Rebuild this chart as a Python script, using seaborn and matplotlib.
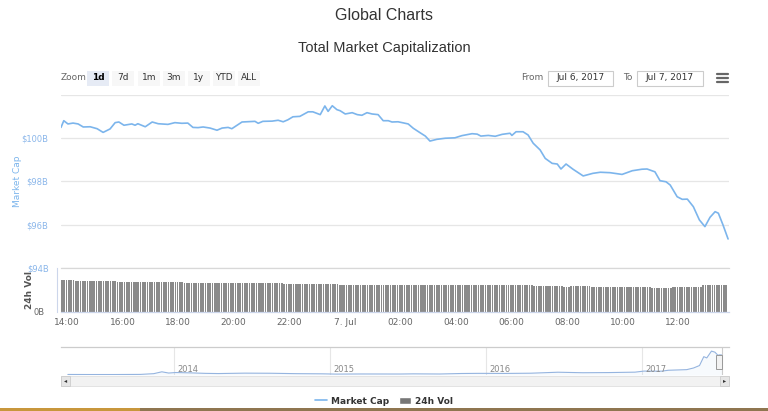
import numpy as np
import pandas as pd
import matplotlib
matplotlib.use("Agg")
import matplotlib.pyplot as plt
import matplotlib.dates as mdates
from matplotlib.patches import Rectangle
from matplotlib.lines import Line2D
import seaborn as sns

# ---------------- data ----------------
cap_times = [
    "2017-07-06 13:47", "2017-07-06 13:53", "2017-07-06 14:02", "2017-07-06 14:13", "2017-07-06 14:24",
    "2017-07-06 14:35", "2017-07-06 14:50", "2017-07-06 15:05", "2017-07-06 15:18", "2017-07-06 15:33",
    "2017-07-06 15:44", "2017-07-06 15:52", "2017-07-06 16:03", "2017-07-06 16:20", "2017-07-06 16:27",
    "2017-07-06 16:33", "2017-07-06 16:49", "2017-07-06 17:04", "2017-07-06 17:17", "2017-07-06 17:38",
    "2017-07-06 17:53", "2017-07-06 18:08", "2017-07-06 18:21", "2017-07-06 18:32", "2017-07-06 18:43",
    "2017-07-06 18:54", "2017-07-06 19:09", "2017-07-06 19:24", "2017-07-06 19:35", "2017-07-06 19:48",
    "2017-07-06 19:56", "2017-07-06 20:18", "2017-07-06 20:46", "2017-07-06 20:53", "2017-07-06 21:03",
    "2017-07-06 21:23", "2017-07-06 21:36", "2017-07-06 21:47", "2017-07-06 21:57", "2017-07-06 22:08",
    "2017-07-06 22:23", "2017-07-06 22:41", "2017-07-06 22:51", "2017-07-06 23:07", "2017-07-06 23:17",
    "2017-07-06 23:24", "2017-07-06 23:33", "2017-07-06 23:43", "2017-07-06 23:50", "2017-07-07 00:01",
    "2017-07-07 00:16", "2017-07-07 00:27", "2017-07-07 00:37", "2017-07-07 00:48", "2017-07-07 00:59",
    "2017-07-07 01:12", "2017-07-07 01:23", "2017-07-07 01:34", "2017-07-07 01:42", "2017-07-07 01:55",
    "2017-07-07 02:04", "2017-07-07 02:17", "2017-07-07 02:28", "2017-07-07 02:43", "2017-07-07 02:54",
    "2017-07-07 03:04", "2017-07-07 03:19", "2017-07-07 03:37", "2017-07-07 03:58", "2017-07-07 04:13",
    "2017-07-07 04:35", "2017-07-07 04:46", "2017-07-07 04:54", "2017-07-07 05:10", "2017-07-07 05:25",
    "2017-07-07 05:40", "2017-07-07 05:57", "2017-07-07 06:01", "2017-07-07 06:10", "2017-07-07 06:25",
    "2017-07-07 06:36", "2017-07-07 06:47", "2017-07-07 07:02", "2017-07-07 07:13", "2017-07-07 07:28",
    "2017-07-07 07:39", "2017-07-07 07:47", "2017-07-07 07:58", "2017-07-07 08:13", "2017-07-07 08:35",
    "2017-07-07 08:56", "2017-07-07 09:12", "2017-07-07 09:33", "2017-07-07 09:59", "2017-07-07 10:21",
    "2017-07-07 10:42", "2017-07-07 10:53", "2017-07-07 11:10", "2017-07-07 11:21", "2017-07-07 11:34",
    "2017-07-07 11:43", "2017-07-07 11:58", "2017-07-07 12:09", "2017-07-07 12:20", "2017-07-07 12:33",
    "2017-07-07 12:46", "2017-07-07 12:58", "2017-07-07 13:09", "2017-07-07 13:20", "2017-07-07 13:27",
    "2017-07-07 13:37", "2017-07-07 13:48",
]
cap_values = [
    100.49, 100.80, 100.65, 100.69, 100.65, 100.51, 100.52, 100.43, 100.26, 100.42,
    100.71, 100.74, 100.59, 100.65, 100.59, 100.66, 100.52, 100.74, 100.66, 100.63,
    100.71, 100.68, 100.69, 100.49, 100.48, 100.51, 100.46, 100.36, 100.46, 100.49,
    100.43, 100.74, 100.77, 100.68, 100.77, 100.78, 100.82, 100.75, 100.84, 100.98,
    101.00, 101.21, 101.21, 101.08, 101.48, 101.23, 101.49, 101.31, 101.26, 101.11,
    101.17, 101.08, 101.05, 101.17, 101.11, 101.08, 100.80, 100.80, 100.74, 100.75,
    100.71, 100.65, 100.45, 100.24, 100.09, 99.86, 99.94, 99.99, 100.01, 100.11,
    100.20, 100.18, 100.09, 100.12, 100.08, 100.17, 100.22, 100.12, 100.29, 100.29,
    100.14, 99.76, 99.45, 99.06, 98.83, 98.80, 98.57, 98.80, 98.56, 98.25,
    98.37, 98.42, 98.40, 98.32, 98.49, 98.56, 98.57, 98.44, 98.03, 97.98,
    97.83, 97.29, 97.17, 97.18, 96.83, 96.22, 95.91, 96.34, 96.60, 96.53,
    95.99, 95.34,
]

# 24h volume (billions), run-length: level and number of 5-minute bars
vol_levels = [4.99, 4.83, 4.71, 4.62, 4.51, 4.46, 4.34, 4.23, 4.14, 4.02, 4.18, 4.02, 3.86, 4.02, 4.23]
vol_counts = [6, 18, 29, 11, 32, 24, 16, 68, 13, 3, 9, 26, 9, 13, 11]
vol_start = "2017-07-06 13:49"

# navigator (total market cap history, billions)
nav_dates = [
    "2013-04-28", "2013-06-15", "2013-08-15", "2013-10-15", "2013-11-15", "2013-12-04",
    "2013-12-20", "2014-01-05", "2014-02-15", "2014-03-15", "2014-04-15", "2014-06-15",
    "2014-08-15", "2014-10-15", "2014-12-15", "2015-01-15", "2015-03-15", "2015-06-15",
    "2015-07-15", "2015-09-15", "2015-11-05", "2015-12-15", "2016-02-15", "2016-04-15",
    "2016-06-18", "2016-08-15", "2016-10-15", "2016-12-15", "2017-01-05", "2017-02-15",
    "2017-03-03", "2017-04-15", "2017-05-01", "2017-05-15", "2017-05-25", "2017-06-01",
    "2017-06-12", "2017-06-20", "2017-06-27", "2017-07-01", "2017-07-07",
]
nav_values = [
    1.6, 1.3, 1.3, 1.9, 5.5, 14.5, 8.5, 11.0, 9.0, 7.0, 6.0, 8.0,
    7.5, 5.5, 4.7, 3.4, 4.0, 3.8, 4.6, 3.9, 6.3, 7.0, 6.6, 7.7,
    12.5, 10.0, 10.8, 12.8, 18.0, 17.5, 22.0, 25.0, 33.0, 45.0, 88.0, 82.0,
    115.0, 110.0, 95.0, 97.0, 96.0,
]
nav_years = ["2014", "2015", "2016", "2017"]

y_ticks = [94, 96, 98, 100, 102]
y_labels = ["$94B", "$96B", "$98B", "$100B", ""]
x_labels = ["14:00", "16:00", "18:00", "20:00", "22:00", "7. Jul",
            "02:00", "04:00", "06:00", "08:00", "10:00", "12:00"]
buttons = ["1d", "7d", "1m", "3m", "1y", "YTD", "ALL"]

# ---------------- figure ----------------
sns.set_theme(style="white")
plt.rcParams["font.family"] = ["DejaVu Sans"]

W, H = 768, 411
fig = plt.figure(figsize=(W / 100, H / 100), dpi=100)
fig.patch.set_facecolor("white")


def fx(x):
    return x / W


def fy(y):
    return 1 - y / H


def axrect(x0, y0, x1, y1):
    return [fx(x0), fy(y1), fx(x1) - fx(x0), (y1 - y0) / H]


BLUE = "#7cb5ec"
GRID = "#e6e6e6"
AXC = "#ccd6eb"
TXT = "#666666"

t0 = pd.Timestamp("2017-07-06 13:47")
t1 = pd.Timestamp("2017-07-07 13:50")

# main panel
ax = fig.add_axes(axrect(61, 94.7, 729, 268))
df = pd.DataFrame({"time": pd.to_datetime(cap_times), "cap": cap_values})
sns.lineplot(data=df, x="time", y="cap", ax=ax, color=BLUE, linewidth=1.2)
ax.set_xlim(t0, t1)
ax.set_ylim(94, 102)
ax.set_yticks(y_ticks)
ax.set_yticklabels(y_labels)
ax.tick_params(axis="y", length=0, pad=9, labelsize=6, labelcolor="#8ab6ea")
ax.set_xticks([])
ax.set_xlabel("")
ax.set_ylabel("")
ax.grid(axis="y", color=GRID, linewidth=0.9)
for s in ax.spines.values():
    s.set_visible(False)
ax.patch.set_alpha(0)

# volume panel
axv = fig.add_axes(axrect(61, 268, 729, 311.5))
vol = np.repeat(vol_levels, vol_counts)
vt = pd.date_range(vol_start, periods=len(vol), freq="5min")
axv.bar(vt, vol, width=3.6 / 1440, color="#8a8a8a", linewidth=0)
axv.set_xlim(t0, t1)
axv.set_ylim(0, 7)
axv.set_yticks([0])
axv.set_yticklabels(["0B"])
axv.tick_params(axis="y", length=0, pad=9, labelsize=6, labelcolor=TXT)
ticks = pd.date_range("2017-07-06 14:00", periods=len(x_labels), freq="2h")
axv.set_xticks(ticks)
axv.set_xticklabels(x_labels)
axv.tick_params(axis="x", direction="out", length=3, width=0.8, color=AXC,
                labelsize=6.5, labelcolor=TXT, pad=2)
for k in ["right"]:
    axv.spines[k].set_visible(False)
axv.spines["top"].set_color("#d8d8d8")
axv.spines["top"].set_linewidth(0.9)
axv.spines["bottom"].set_color(AXC)
axv.spines["bottom"].set_linewidth(0.9)
axv.spines["left"].set_color(AXC)
axv.spines["left"].set_linewidth(0.8)
axv.spines["left"].set_position(("outward", 3))
axv.set_xlabel("")
axv.patch.set_alpha(0)

# axis titles
fig.text(fx(17), fy(181), "Market Cap", rotation=90, ha="center", va="center",
         fontsize=6.5, color=BLUE)
fig.text(fx(30), fy(290), "24h Vol", rotation=90, ha="center", va="center",
         fontsize=6.5, color="#555555", fontweight="bold")

# titles
fig.text(0.5, fy(15), "Global Charts", ha="center", va="center",
         fontsize=11.5, color="#333333", family="Liberation Sans")
fig.text(0.5, fy(48), "Total Market Capitalization", ha="center", va="center",
         fontsize=10.5, color="#333333", family="Liberation Sans")

# range selector
fig.text(fx(61), fy(78), "Zoom", ha="left", va="center", fontsize=6.5, color=TXT)
bx = [87, 112, 138, 163, 188, 213, 238]
for i, (lab, x0) in enumerate(zip(buttons, bx)):
    sel = i == 0
    fig.add_artist(Rectangle((fx(x0), fy(86)), 22 / W, 15 / H, transform=fig.transFigure,
                             facecolor="#e6ebf5" if sel else "#f7f7f7", edgecolor="none"))
    fig.text(fx(x0 + 11), fy(78), lab, ha="center", va="center", fontsize=6.5,
             color="#000000" if sel else "#333333", fontweight="bold" if sel else "normal")

fig.text(fx(543), fy(78), "From", ha="right", va="center", fontsize=6.5, color=TXT)
fig.text(fx(632), fy(78), "To", ha="right", va="center", fontsize=6.5, color=TXT)
for x0, x1, lab in [(548, 613, "Jul 6, 2017"), (637, 703, "Jul 7, 2017")]:
    fig.add_artist(Rectangle((fx(x0), fy(86)), (x1 - x0) / W, 15 / H, transform=fig.transFigure,
                             facecolor="white", edgecolor="#cccccc", linewidth=0.8))
    fig.text(fx((x0 + x1) / 2), fy(78), lab, ha="center", va="center", fontsize=6.5, color="#333333")
for yy in [74, 78, 82]:
    fig.add_artist(Line2D([fx(717), fx(728)], [fy(yy), fy(yy)], transform=fig.transFigure,
                          color="#666666", linewidth=1.6))

# navigator
axn = fig.add_axes(axrect(61, 347, 729, 375))
ndf = pd.DataFrame({"date": pd.to_datetime(nav_dates), "cap": nav_values})
sns.lineplot(data=ndf, x="date", y="cap", ax=axn, color="#95b4df", linewidth=0.8)
axn.fill_between(ndf["date"], ndf["cap"], -1, color=BLUE, alpha=0.06, linewidth=0)
axn.set_xlim(pd.Timestamp("2013-04-12"), pd.Timestamp("2017-07-23"))
axn.set_ylim(-1, 135)
yrs = pd.to_datetime([y + "-01-01" for y in nav_years])
axn.set_xticks(yrs)
axn.set_xticklabels([])
axn.tick_params(axis="x", length=0)
axn.set_yticks([])
axn.grid(axis="x", color=GRID, linewidth=0.8)
for d, lab in zip(yrs, nav_years):
    axn.text(d + pd.Timedelta(days=8), 2, lab, fontsize=6, color="#888888", va="bottom", ha="left")
for k, s in axn.spines.items():
    s.set_visible(k == "top")
axn.spines["top"].set_color("#cccccc")
axn.spines["top"].set_linewidth(0.9)
axn.set_xlabel("")
axn.set_ylabel("")
axn.patch.set_alpha(0)
# selected range edge + handle
axn.axvline(pd.Timestamp("2017-07-06"), color="#cccccc", linewidth=0.8)
fig.add_artist(Rectangle((fx(715.5), fy(369)), 6 / W, 14 / H, transform=fig.transFigure,
                         facecolor="#f2f2f2", edgecolor="#999999", linewidth=0.7))

# scrollbar
fig.add_artist(Rectangle((fx(61), fy(386)), 668 / W, 10 / H, transform=fig.transFigure,
                         facecolor="#f2f2f2", edgecolor="#e0e0e0", linewidth=0.6))
for x0, mark in [(61, "\u25c2"), (720, "\u25b8")]:
    fig.add_artist(Rectangle((fx(x0), fy(386)), 9 / W, 10 / H, transform=fig.transFigure,
                             facecolor="#e6e6e6", edgecolor="#cccccc", linewidth=0.6))
    fig.text(fx(x0 + 4.5), fy(381), mark, ha="center", va="center", fontsize=4.5, color="#333333")

# legend
handles = [Line2D([0], [0], color=BLUE, linewidth=1.2),
           Rectangle((0, 0), 1, 1, facecolor="#777777")]
leg = fig.legend(handles, ["Market Cap", "24h Vol"], loc="center", bbox_to_anchor=(0.5, fy(401)),
                 ncol=2, frameon=False, fontsize=6.5, handlelength=1.3, handleheight=0.9,
                 columnspacing=1.2, handletextpad=0.4)
for t in leg.get_texts():
    t.set_fontweight("bold")
    t.set_color("#333333")

# bottom screen strip
fig.add_artist(Rectangle((0, 0), 1, 3 / H, transform=fig.transFigure,
                         facecolor="#8f7650", edgecolor="none"))
fig.add_artist(Rectangle((0, 0), 140 / W, 3 / H, transform=fig.transFigure,
                         facecolor="#c8973c", edgecolor="none"))

fig.savefig("out.png", dpi=100, facecolor="white")
